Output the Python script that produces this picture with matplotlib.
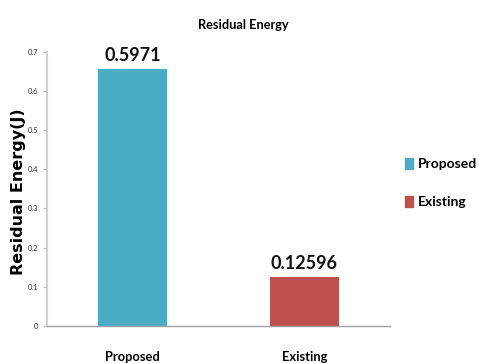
import matplotlib
matplotlib.use("Agg")
import matplotlib.pyplot as plt
from matplotlib.patches import Patch

categories = ["Proposed", "Existing"]
bar_heights = [0.655, 0.126]
value_labels = ["0.5971", "0.12596"]
colors = ["#4BACC6", "#C0504D"]
yticks = [0, 0.1, 0.2, 0.3, 0.4, 0.5, 0.6, 0.7]
ytick_labels = ["0", "0.1", "0.2", "0.3", "0.4", "0.5", "0.6", "0.7"]

narrow = ["Lato", "Liberation Sans", "DejaVu Sans"]

fig = plt.figure(figsize=(4.79, 3.63), dpi=100)
ax = fig.add_axes([0.0975, 0.102, 0.717, 0.756])

x = list(range(len(categories)))
ax.bar(x, bar_heights, width=0.4, color=colors, zorder=2)
for xi, h, lab in zip(x, bar_heights, value_labels):
    ax.text(xi, h + 0.012, lab, ha="center", va="bottom", fontsize=13,
            fontweight="bold", family=narrow, color="#111111")

ax.set_xlim(-0.5, 1.5)
ax.set_ylim(0, 0.7)
ax.set_yticks(yticks)
ax.set_yticklabels(ytick_labels, family=narrow, fontsize=5.5, color="#333333")
ax.set_xticks(x)
ax.set_xticklabels(categories, family=narrow, fontsize=9.3, fontweight="bold")
ax.tick_params(axis="x", length=0, pad=18)
ax.tick_params(axis="y", length=3, width=0.8, color="#bbbbbb", pad=3)

for s in ["top", "right"]:
    ax.spines[s].set_visible(False)
ax.spines["left"].set_color("#d0d0d0")
ax.spines["left"].set_linewidth(1.5)
ax.spines["bottom"].set_color("#a0a0a0")
ax.spines["bottom"].set_linewidth(1.0)

ax.set_ylabel("Residual Energy(J)", fontsize=11.5, fontweight="bold",
              family=["DejaVu Sans"])
ax.yaxis.set_label_coords(-0.060, 0.49)
fig.text(0.507, 0.931, "Residual Energy", ha="center", va="center",
         fontsize=9.2, fontweight="bold", family=narrow)

handles = [Patch(color=c) for c in colors]
leg = fig.legend(handles, categories, loc="center left",
                 bbox_to_anchor=(0.845, 0.496), frameon=False,
                 handlelength=0.6, handleheight=0.9, handletextpad=0.35,
                 labelspacing=1.85, borderpad=0, borderaxespad=0,
                 prop={"family": narrow, "size": 10, "weight": "bold"})

fig.savefig("out.png", dpi=100)
